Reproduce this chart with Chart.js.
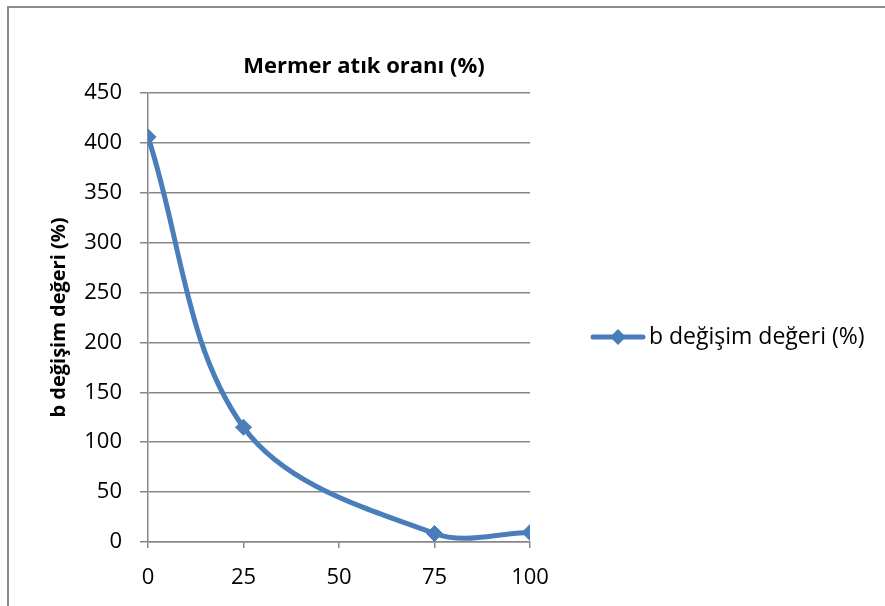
<!DOCTYPE html>
<html lang="tr">
<head>
<meta charset="utf-8">
<title>Mermer atık oranı</title>
<script src="https://cdn.jsdelivr.net/npm/chart.js@4.4.1/dist/chart.umd.min.js"></script>
<style>
  html, body { margin: 0; padding: 0; background: #fff; }
  #wrap { position: relative; width: 885px; height: 606px; overflow: hidden; }
  #frame { position: absolute; left: 7px; top: 6px; width: 920px; height: 640px; border: 2px solid #8c8c8c; box-sizing: border-box; }
  #chart { position: absolute; left: 0; top: 0; }
</style>
</head>
<body>
<div id="wrap">
  <div id="frame"></div>
  <canvas id="chart" width="885" height="606"></canvas>
</div>
<script>
// marble waste ratio (%) and the b change value (%)
const wasteRatio = [0, 25, 75, 100];
const bChange = [406, 115, 8.5, 9.5];
const xTicks = [0, 25, 50, 75, 100];

const chartTitle = "Mermer atık oranı (%)";
const seriesName = "b değişim değeri (%)";
const yTitle = "b değişim değeri (%)";

const blue = "#4a7ebb";
const gridGray = "#878787";
const fontFamily = "'Open Sans', 'Liberation Sans', sans-serif";

const plotRight = 530;

// small line + diamond icon for the legend entry
function legendIcon() {
  const c = document.createElement("canvas");
  c.width = 56;
  c.height = 20;
  const g = c.getContext("2d");
  g.strokeStyle = blue;
  g.lineWidth = 5;
  g.lineCap = "round";
  g.beginPath();
  g.moveTo(3, 10);
  g.lineTo(53, 10);
  g.stroke();
  g.fillStyle = blue;
  g.beginPath();
  g.moveTo(28, 2);
  g.lineTo(36, 10);
  g.lineTo(28, 18);
  g.lineTo(20, 10);
  g.closePath();
  g.fill();
  return c;
}
const icon = legendIcon();

// heading gets its own layout box on top so the plot starts below it
const headingPlugin = {
  id: "heading",
  beforeInit(chart) {
    const box = {
      position: "top",
      weight: 10,
      fullSize: false,
      options: {},
      top: 0, left: 0, right: 0, bottom: 0, width: 0, height: 0,
      update(maxWidth) {
        this.width = maxWidth;
        this.height = 25;
      },
      isHorizontal() { return true; },
      draw() {
        const ctx = chart.ctx;
        ctx.save();
        ctx.font = "bold 22px " + fontFamily;
        ctx.fillStyle = "#000";
        ctx.textAlign = "center";
        ctx.textBaseline = "middle";
        ctx.fillText(chartTitle, (this.left + this.right) / 2 + 25, this.top - 1);
        ctx.restore();
      }
    };
    Chart.layouts.addBox(chart, box);
  },
  // the legend text is wider than Chart.js lets a side box be, so widen it
  afterInit(chart) {
    const legend = chart.legend;
    const fit = legend.fit.bind(legend);
    legend.fit = function () {
      fit();
      legend.width = chart.width - plotRight;
    };
  }
};

const points = wasteRatio.map((x, i) => ({ x: x, y: bChange[i] }));

new Chart(document.getElementById("chart"), {
  type: "line",
  data: {
    datasets: [{
      label: seriesName,
      data: points,
      borderColor: blue,
      backgroundColor: blue,
      borderWidth: 5,
      tension: 0.35,
      pointStyle: "rectRot",
      pointRadius: 8,
      pointBorderWidth: 1,
      pointBackgroundColor: blue,
      pointBorderColor: blue,
      fill: false
    }]
  },
  options: {
    responsive: false,
    animation: false,
    devicePixelRatio: 1,
    layout: { padding: { top: 68, right: 0, bottom: 0, left: 0 } },
    elements: { line: { capBezierPoints: false } },
    plugins: {
      title: { display: false },
      tooltip: { enabled: false },
      legend: {
        position: "right",
        align: "center",
        labels: {
          usePointStyle: true,
          pointStyleWidth: 39,
          padding: 68.5,
          color: "#000",
          font: { family: fontFamily, size: 23 },
          generateLabels(chart) {
            return chart.data.datasets.map((ds, i) => ({
              text: ds.label,
              pointStyle: icon,
              fillStyle: blue,
              strokeStyle: blue,
              lineWidth: 0,
              datasetIndex: i
            }));
          }
        }
      }
    },
    scales: {
      x: {
        type: "linear",
        min: 0,
        max: 100,
        afterBuildTicks(scale) {
          scale.ticks = xTicks.map(v => ({ value: v }));
        },
        afterFit(scale) { scale.height = 64; },
        grid: {
          drawOnChartArea: false,
          drawTicks: true,
          tickLength: 6,
          color: gridGray,
          lineWidth: 1.5
        },
        border: { color: gridGray, width: 1.5 },
        ticks: {
          padding: 17,
          color: "#000",
          maxRotation: 0,
          font: { family: fontFamily, size: 22 }
        }
      },
      y: {
        min: 0,
        max: 450,
        afterFit(scale) { scale.width = 148; },
        grid: {
          color: gridGray,
          lineWidth: 1.5,
          tickLength: 8
        },
        border: { color: gridGray, width: 1.5 },
        ticks: {
          stepSize: 50,
          padding: 18,
          color: "#000",
          font: { family: fontFamily, size: 22 }
        },
        title: {
          display: true,
          text: yTitle,
          color: "#000",
          padding: { top: 47, bottom: 0 },
          font: { family: fontFamily, size: 20, weight: "bold" }
        }
      }
    }
  },
  plugins: [headingPlugin]
});
</script>
</body>
</html>
